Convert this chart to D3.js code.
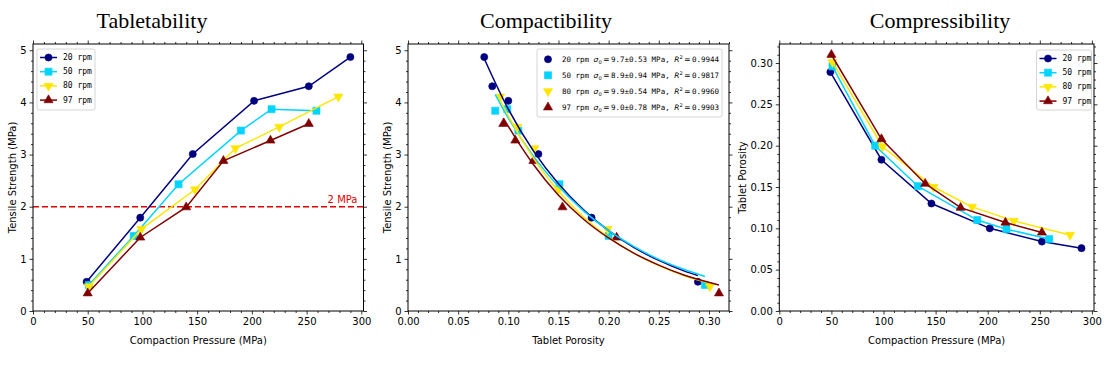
<!DOCTYPE html>
<html><head><meta charset="utf-8">
<script src="https://cdn.jsdelivr.net/npm/d3@7"></script>
<style>
body{margin:0;background:#fff;}
</style></head>
<body><svg id="c" width="1108" height="379" font-family="DejaVu Sans"></svg>
<script>
// ---------------- DATA ----------------
const series = ["20 rpm", "50 rpm", "80 rpm", "97 rpm"];
const colors = ["#00007f", "#00d4ff", "#ffe600", "#7f0000"];
const symbols = ["circle", "square", "triangleDown", "triangleUp"];

// compaction pressure (MPa)
const p20 = [49, 98, 146, 202, 252, 290];
const p50 = [51, 92, 133, 190, 218, 259];
const p80 = [51, 99, 148, 185, 225, 279];
const p97 = [50, 98, 140, 174, 217, 252];
// tensile strength (MPa)
const ts20 = [0.56, 1.79, 3.01, 4.03, 4.31, 4.87];
const ts50 = [0.50, 1.44, 2.43, 3.46, 3.87, 3.84];
const ts80 = [0.47, 1.57, 2.33, 3.12, 3.53, 4.11];
const ts97 = [0.34, 1.41, 1.99, 2.88, 3.27, 3.59];
// tablet porosity
const por20 = [0.289, 0.183, 0.130, 0.100, 0.084, 0.076];
const por50 = [0.296, 0.200, 0.151, 0.110, 0.099, 0.087];
const por80 = [0.301, 0.199, 0.150, 0.126, 0.109, 0.092];
const por97 = [0.310, 0.208, 0.154, 0.125, 0.107, 0.095];

// fitted curves
const fitEps20 = [0.076, 0.10, 0.125, 0.15, 0.175, 0.20, 0.225, 0.25, 0.275, 0.289];
const fitSig20 = [4.84, 3.87, 3.07, 2.44, 1.94, 1.54, 1.22, 0.97, 0.77, 0.68];
const fitEps50 = [0.087, 0.10, 0.125, 0.15, 0.175, 0.20, 0.225, 0.25, 0.275, 0.296];
const fitSig50 = [4.15, 3.70, 2.97, 2.39, 1.92, 1.54, 1.24, 0.99, 0.80, 0.66];
const fitEps80 = [0.091, 0.10, 0.125, 0.15, 0.175, 0.20, 0.225, 0.25, 0.275, 0.301];
const fitSig80 = [4.08, 3.74, 2.93, 2.30, 1.80, 1.41, 1.11, 0.87, 0.68, 0.53];
const fitEps97 = [0.095, 0.10, 0.125, 0.15, 0.175, 0.20, 0.225, 0.25, 0.275, 0.310];
const fitSig97 = [3.70, 3.54, 2.81, 2.22, 1.76, 1.40, 1.11, 0.88, 0.69, 0.50];

const sigma0 = ["9.7±0.53", "8.9±0.94", "9.9±0.54", "9.0±0.78"];
const r2 = ["0.9944", "0.9817", "0.9960", "0.9903"];

const thresholdValue = 2;
const thresholdLabel = "2 MPa";

const titles = ["Tabletability", "Compactibility", "Compressibility"];
const xLabels = ["Compaction Pressure (MPa)", "Tablet Porosity", "Compaction Pressure (MPa)"];
const yLabels = ["Tensile Strength (MPa)", "Tensile Strength (MPa)", "Tablet Porosity"];

const pressureTicks = [0, 50, 100, 150, 200, 250, 300];
const strengthTicks = [0, 1, 2, 3, 4, 5];
const porosityTicks = [0, 0.05, 0.10, 0.15, 0.20, 0.25, 0.30];

// -------------- CHART --------------
const P = [p20, p50, p80, p97];
const TS = [ts20, ts50, ts80, ts97];
const POR = [por20, por50, por80, por97];
const FE = [fitEps20, fitEps50, fitEps80, fitEps97];
const FS = [fitSig20, fitSig50, fitSig80, fitSig97];

const svg = d3.select("#c");
const plotTop = 44, plotBottom = 311;
const MONO = "DejaVu Sans Mono";

function symbolPath(kind, size) {
  if (kind === "circle") return d3.symbol(d3.symbolCircle, size)();
  if (kind === "square") return d3.symbol(d3.symbolSquare, size)();
  return d3.symbol(d3.symbolTriangle, size)();
}
const symSize = {circle: 40, square: 50, triangleUp: 36, triangleDown: 36};
function drawMarker(g, kind, x, y, color) {
  const rot = kind === "triangleDown" ? 180 : 0;
  g.append("path").attr("d", symbolPath(kind, symSize[kind]))
    .attr("transform", `translate(${x},${y}) rotate(${rot})`)
    .attr("fill", color).attr("stroke", color).attr("stroke-width", 0.6);
}

function makeAxes(left, right, xDomain, yDomain, xTicks, yTicks, xMinorStep, yMinorStep, xFmt, yFmt) {
  const x = d3.scaleLinear().domain(xDomain).range([left, right]);
  const y = d3.scaleLinear().domain(yDomain).range([plotBottom, plotTop]);
  const g = svg.append("g");
  const xMinor = d3.range(xDomain[0], xDomain[1] + 1e-9, xMinorStep).filter(v => !xTicks.some(t => Math.abs(t - v) < 1e-9));
  const yMinor = d3.range(yDomain[0], yDomain[1] + 1e-9, yMinorStep).filter(v => !yTicks.some(t => Math.abs(t - v) < 1e-9));
  const add = (axis, tr) => {
    const a = g.append("g").attr("transform", tr).call(axis);
    a.select(".domain").remove();
    a.selectAll("line").attr("stroke", "#000").attr("stroke-width", 0.8);
    a.selectAll("text").style("font-family", "DejaVu Sans").style("font-size", "10px").attr("fill", "#000");
    return a;
  };
  add(d3.axisBottom(x).tickValues(xTicks).tickFormat(xFmt).tickSize(3.5).tickPadding(3), `translate(0,${plotBottom})`);
  add(d3.axisBottom(x).tickValues(xMinor).tickFormat("").tickSize(2), `translate(0,${plotBottom})`);
  add(d3.axisTop(x).tickValues(xTicks).tickFormat("").tickSize(3.5), `translate(0,${plotTop})`);
  add(d3.axisTop(x).tickValues(xMinor).tickFormat("").tickSize(2), `translate(0,${plotTop})`);
  add(d3.axisLeft(y).tickValues(yTicks).tickFormat(yFmt).tickSize(3.5).tickPadding(3), `translate(${left},0)`);
  add(d3.axisLeft(y).tickValues(yMinor).tickFormat("").tickSize(2), `translate(${left},0)`);
  add(d3.axisRight(y).tickValues(yTicks).tickFormat("").tickSize(3.5), `translate(${right},0)`);
  add(d3.axisRight(y).tickValues(yMinor).tickFormat("").tickSize(2), `translate(${right},0)`);
  return {x, y, g};
}
function frame(left, right) {
  svg.append("rect").attr("x", left).attr("y", plotTop).attr("width", right - left).attr("height", plotBottom - plotTop)
    .attr("fill", "none").attr("stroke", "#000").attr("stroke-width", 1);
}
function labels(i, left, right, titleX) {
  svg.append("text").attr("x", titleX).attr("y", 28).attr("text-anchor", "middle")
    .style("font-family", "Liberation Serif").style("font-size", "22px").attr("fill", "#000").text(titles[i]);
  svg.append("text").attr("x", (left + right) / 2).attr("y", 344).attr("text-anchor", "middle")
    .style("font-size", "10px").attr("fill", "#000").text(xLabels[i]);
  const yx = [12, 387, 742][i];
  svg.append("text").attr("transform", `translate(${yx},${(plotTop + plotBottom) / 2}) rotate(-90)`)
    .attr("text-anchor", "middle").attr("dominant-baseline", "central")
    .style("font-size", "10px").attr("fill", "#000").text(yLabels[i]);
}
function lineLegend(x0, y0, w, h) {
  const lg = svg.append("g");
  lg.append("rect").attr("x", x0).attr("y", y0).attr("width", w).attr("height", h).attr("rx", 2)
    .attr("fill", "#fff").attr("fill-opacity", 0.85).attr("stroke", "#ccc").attr("stroke-width", 0.8);
  series.forEach((s, k) => {
    const cy = y0 + 8.5 + k * 14.2;
    lg.append("line").attr("x1", x0 + 3).attr("x2", x0 + 20).attr("y1", cy).attr("y2", cy)
      .attr("stroke", colors[k]).attr("stroke-width", 1.5);
    drawMarker(lg, symbols[k], x0 + 11.5, cy, colors[k]);
    lg.append("text").attr("x", x0 + 26).attr("y", cy).attr("dominant-baseline", "central")
      .style("font-family", MONO).style("font-size", "8px").attr("fill", "#000").text(s);
  });
}

// ---- Panel 1: Tabletability ----
{
  const L = 33, R = 363.5;
  const {x, y} = makeAxes(L, R, [0, 302], [0, 5.12], pressureTicks, strengthTicks, 10, 0.2, d3.format("d"), d3.format("d"));
  const g = svg.append("g");
  g.append("line").attr("x1", L).attr("x2", R).attr("y1", y(thresholdValue)).attr("y2", y(thresholdValue))
    .attr("stroke", "#e00000").attr("stroke-width", 1.5).attr("stroke-dasharray", "6,3");
  g.append("text").attr("x", R - 6).attr("y", y(thresholdValue) - 4).attr("text-anchor", "end")
    .style("font-size", "10px").attr("fill", "#e00000").text(thresholdLabel);
  const line = d3.line().x(d => x(d[0])).y(d => y(d[1]));
  series.forEach((s, k) => {
    const pts = P[k].map((v, j) => [v, TS[k][j]]);
    g.append("path").attr("d", line(pts)).attr("fill", "none").attr("stroke", colors[k]).attr("stroke-width", 1.5);
    pts.forEach(p => drawMarker(g, symbols[k], x(p[0]), y(p[1]), colors[k]));
  });
  frame(L, R);
  lineLegend(37, 49, 58, 61);
  labels(0, L, R, 152);
}

// ---- Panel 2: Compactibility ----
{
  const L = 408, R = 729;
  const {x, y} = makeAxes(L, R, [0, 0.32], [0, 5.12], porosityTicks, strengthTicks, 0.01, 0.2, d3.format(".2f"), d3.format("d"));
  const g = svg.append("g");
  const curve = d3.line().x(d => x(d[0])).y(d => y(d[1])).curve(d3.curveMonotoneX);
  series.forEach((s, k) => {
    POR[k].forEach((v, j) => drawMarker(g, symbols[k], x(v), y(TS[k][j]), colors[k]));
  });
  series.forEach((s, k) => {
    const pts = FE[k].map((v, j) => [v, FS[k][j]]);
    g.append("path").attr("d", curve(pts)).attr("fill", "none").attr("stroke", colors[k]).attr("stroke-width", 1.5);
  });
  frame(L, R);
  const x0 = 537, y0 = 49, w = 185, h = 68;
  const lg = svg.append("g");
  lg.append("rect").attr("x", x0).attr("y", y0).attr("width", w).attr("height", h).attr("rx", 2)
    .attr("fill", "#fff").attr("fill-opacity", 0.85).attr("stroke", "#ccc").attr("stroke-width", 0.8);
  series.forEach((s, k) => {
    const cy = y0 + 10.3 + k * 16;
    drawMarker(lg, symbols[k], x0 + 11, cy, colors[k]);
    const t = lg.append("text").attr("x", x0 + 25).attr("y", cy + 3)
      .style("font-family", MONO).style("font-size", "7.5px").attr("fill", "#000");
    t.append("tspan").text(s + " ");
    t.append("tspan").style("font-family", "DejaVu Sans").style("font-style", "italic").text("σ");
    t.append("tspan").style("font-family", "DejaVu Sans").style("font-size", "5.2px").attr("dy", 2).text("0");
    t.append("tspan").style("font-family", "DejaVu Sans").attr("dy", -2).text("\u2009=\u2009");
    t.append("tspan").text(sigma0[k] + " MPa, ");
    t.append("tspan").style("font-family", "DejaVu Sans").style("font-style", "italic").text("R");
    t.append("tspan").style("font-family", "DejaVu Sans").style("font-size", "5.2px").attr("dy", -3).text("2");
    t.append("tspan").style("font-family", "DejaVu Sans").attr("dy", 3).text("\u2009=\u2009");
    t.append("tspan").text(r2[k]);
  });
  labels(1, L, R, 546);
}

// ---- Panel 3: Compressibility ----
{
  const L = 779.3, R = 1094;
  const {x, y} = makeAxes(L, R, [0, 302], [0, 0.323], pressureTicks, porosityTicks, 10, 0.01, d3.format("d"), d3.format(".2f"));
  const g = svg.append("g");
  const line = d3.line().x(d => x(d[0])).y(d => y(d[1]));
  series.forEach((s, k) => {
    const pts = P[k].map((v, j) => [v, POR[k][j]]);
    g.append("path").attr("d", line(pts)).attr("fill", "none").attr("stroke", colors[k]).attr("stroke-width", 1.5);
    pts.forEach(p => drawMarker(g, symbols[k], x(p[0]), y(p[1]), colors[k]));
  });
  frame(L, R);
  lineLegend(1036.5, 50, 55, 60);
  labels(2, L, R, 940);
}
</script></body></html>
